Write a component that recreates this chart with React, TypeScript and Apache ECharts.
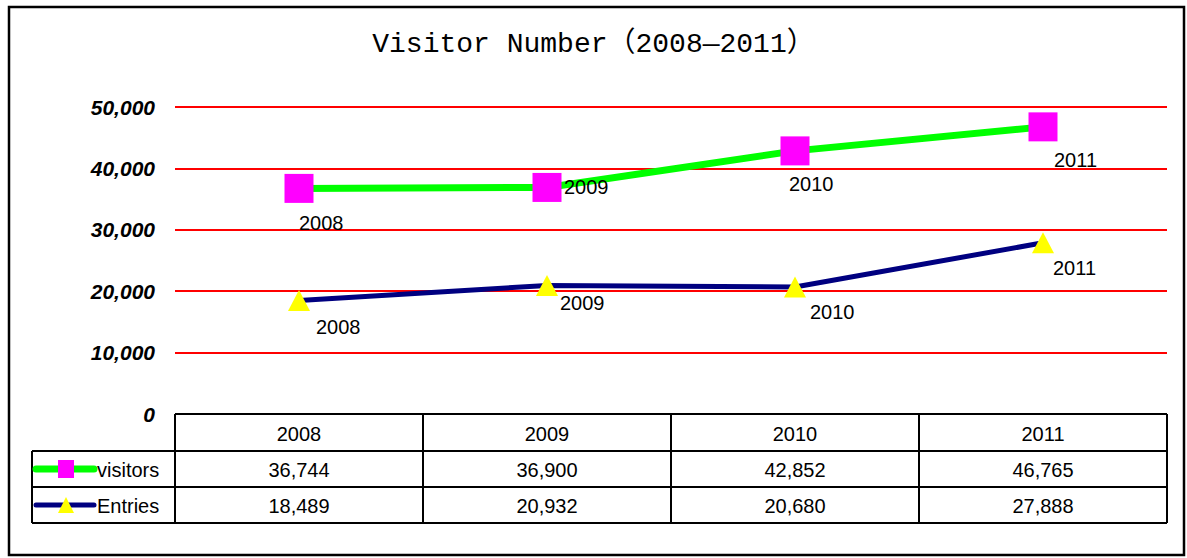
import React, { useEffect, useRef } from "react";
import * as echarts from "echarts";

const titleText = "Visitor Number（2008—2011）";
const years = ["2008", "2009", "2010", "2011"];
const seriesNames = ["visitors", "Entries"];
const visitors = [36744, 36900, 42852, 46765];
const entries = [18489, 20932, 20680, 27888];
const yMin = 0;
const yMax = 50000;
const yInterval = 10000;

// label offsets (style only) relative to each point's centre
const visitorLabelOffsets = [[0, 35], [17, 0], [-6, 33], [11, 33]];
const entryLabelOffsets = [[17, 27], [13, 18], [15, 25], [10, 25]];

const SANS = "'Liberation Sans', Arial, sans-serif";
const FS = 20;
const fmt = (v: number) => v.toLocaleString("en-US");

export default function App() {
  const ref = useRef<HTMLDivElement>(null);

  useEffect(() => {
    if (!ref.current) return;
    const chart = echarts.init(ref.current, null, { renderer: "svg" });

    const labelBase = {
      show: true,
      position: "inside",
      align: "left",
      verticalAlign: "middle",
      color: "#000",
      fontFamily: SANS,
      fontSize: FS,
      formatter: (p: any) => p.name,
    };

    chart.setOption({
      animation: false,
      backgroundColor: "#fff",
      title: {
        text: titleText,
        left: "center",
        top: 25,
        textStyle: {
          fontFamily: "'Liberation Mono', 'Noto Sans CJK SC', monospace",
          fontSize: 28,
          fontWeight: "normal",
          color: "#000",
        },
      },
      grid: { left: 175, right: 20, top: 107, bottom: 144 },
      xAxis: {
        type: "category",
        data: years,
        boundaryGap: true,
        axisLine: { show: false },
        axisTick: { show: false },
        axisLabel: { show: false },
        splitLine: { show: false },
      },
      yAxis: {
        type: "value",
        min: yMin,
        max: yMax,
        interval: yInterval,
        axisLine: { show: false },
        axisTick: { show: false },
        splitLine: { lineStyle: { color: "#ff0000", width: 2 } },
        axisLabel: {
          color: "#000",
          fontFamily: SANS,
          fontWeight: "bold",
          fontStyle: "italic",
          fontSize: 21,
          margin: 20,
          formatter: (v: number) => fmt(v),
        },
      },
      series: [
        {
          name: seriesNames[0],
          type: "line",
          data: visitors.map((v, i) => ({ value: v, label: { offset: visitorLabelOffsets[i] } })),
          symbol: "rect",
          symbolSize: 29,
          itemStyle: { color: "#ff00ff" },
          lineStyle: { color: "#00ff00", width: 7 },
          label: labelBase,
          z: 3,
        },
        {
          name: seriesNames[1],
          type: "line",
          data: entries.map((v, i) => ({ value: v, label: { offset: entryLabelOffsets[i] } })),
          symbol: "triangle",
          symbolSize: [22, 21],
          itemStyle: { color: "#ffff00" },
          lineStyle: { color: "#000080", width: 5 },
          label: labelBase,
          z: 3,
        },
      ],
    });

    // build data table from axis positions
    const centers = years.map((y) => chart.convertToPixel({ xAxisIndex: 0 }, y) as number);
    const band = centers.length > 1 ? centers[1] - centers[0] : 200;
    const tLeft = centers[0] - band / 2;
    const tRight = centers[centers.length - 1] + band / 2;
    const top = chart.convertToPixel({ yAxisIndex: 0 }, yMin) as number;
    const rowH = [37, 36, 36];
    const rowY = [top, top + rowH[0], top + rowH[0] + rowH[1], top + rowH[0] + rowH[1] + rowH[2]];
    const legLeft = 32;
    const stroke = { stroke: "#000", lineWidth: 2 };
    const els: any[] = [];

    els.push({ type: "line", shape: { x1: tLeft, y1: rowY[0], x2: tRight, y2: rowY[0] }, style: stroke, z: 10 });
    for (let r = 1; r < 4; r++) {
      els.push({ type: "line", shape: { x1: legLeft, y1: rowY[r], x2: tRight, y2: rowY[r] }, style: stroke, z: 10 });
    }
    els.push({ type: "line", shape: { x1: legLeft, y1: rowY[1], x2: legLeft, y2: rowY[3] }, style: stroke, z: 10 });
    for (let c = 0; c <= years.length; c++) {
      const x = tLeft + c * band;
      els.push({ type: "line", shape: { x1: x, y1: rowY[0], x2: x, y2: rowY[3] }, style: stroke, z: 10 });
    }
    const cellText = (x: number, y: number, t: string) => ({
      type: "text",
      x,
      y,
      style: { text: t, fill: "#000", font: `${FS}px ${SANS}`, align: "center", verticalAlign: "middle" },
      z: 11,
    });
    const mids = [(rowY[0] + rowY[1]) / 2, (rowY[1] + rowY[2]) / 2, (rowY[2] + rowY[3]) / 2];
    years.forEach((y, i) => {
      els.push(cellText(centers[i], mids[0] + 1, y));
      els.push(cellText(centers[i], mids[1] + 1, fmt(visitors[i])));
      els.push(cellText(centers[i], mids[2] + 1, fmt(entries[i])));
    });
    const keyX1 = 36, keyX2 = 94, keyC = 66;
    els.push({ type: "line", shape: { x1: keyX1, y1: mids[1], x2: keyX2, y2: mids[1] }, style: { stroke: "#00ff00", lineWidth: 7, lineCap: "round" }, z: 10 });
    els.push({ type: "rect", shape: { x: keyC - 8, y: mids[1] - 9, width: 16, height: 18 }, style: { fill: "#ff00ff" }, z: 11 });
    els.push({ type: "line", shape: { x1: keyX1, y1: mids[2], x2: keyX2, y2: mids[2] }, style: { stroke: "#000080", lineWidth: 5, lineCap: "round" }, z: 10 });
    els.push({ type: "polygon", shape: { points: [[keyC, mids[2] - 8], [keyC + 8, mids[2] + 8], [keyC - 8, mids[2] + 8]] }, style: { fill: "#ffff00" }, z: 11 });
    const legText = (y: number, t: string) => ({
      type: "text",
      x: 97,
      y: y + 1,
      style: { text: t, fill: "#000", font: `${FS}px ${SANS}`, align: "left", verticalAlign: "middle" },
      z: 11,
    });
    els.push(legText(mids[1], seriesNames[0]));
    els.push(legText(mids[2], seriesNames[1]));
    els.push({ type: "rect", shape: { x: 9, y: 7, width: 1175, height: 548 }, style: { fill: "none", stroke: "#000", lineWidth: 2.5 }, z: 12, silent: true });

    chart.setOption({ graphic: els });

    return () => chart.dispose();
  }, []);

  return <div ref={ref} style={{ position: "absolute", left: 0, top: 0, width: 1187, height: 558 }} />;
}
